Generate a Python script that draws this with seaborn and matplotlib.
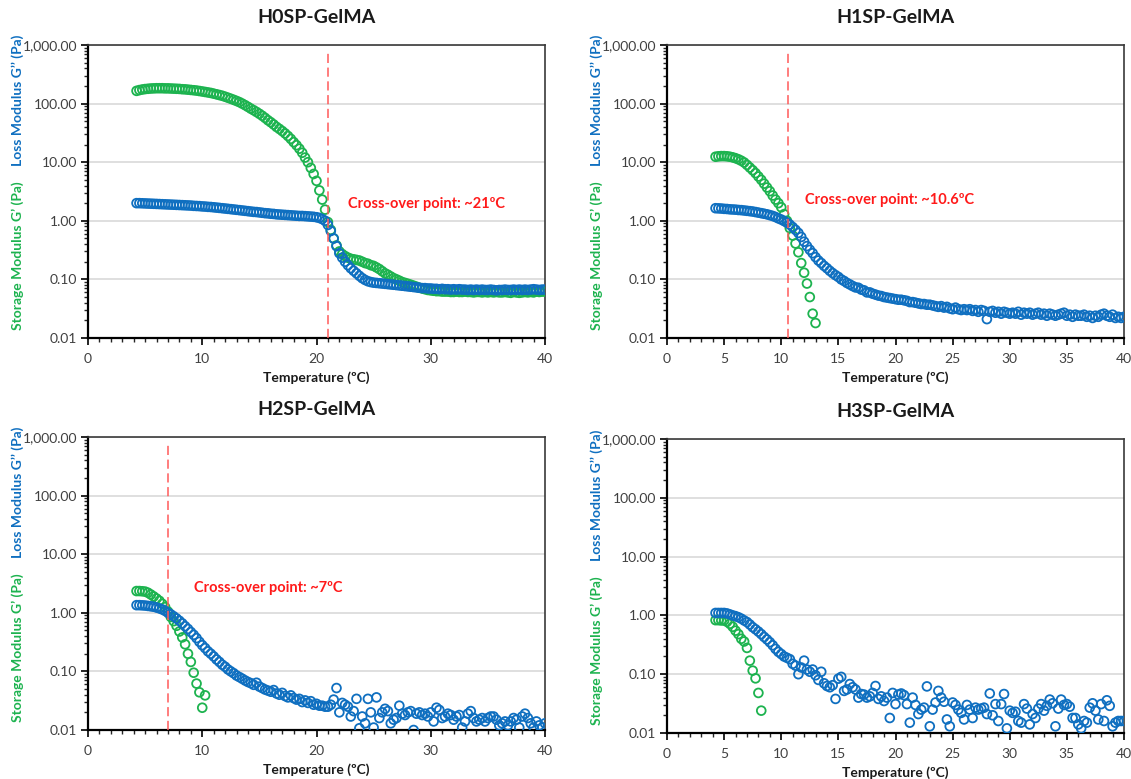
import numpy as np
import pandas as pd
import matplotlib
matplotlib.use("Agg")
import matplotlib.pyplot as plt
import matplotlib.ticker as mticker
import seaborn as sns

sns.set_style("ticks")
plt.rcParams['font.family'] = ['Lato', 'DejaVu Sans']

# temperature sweep (degC), shared by all four samples
temperature = [
    4.25, 4.5, 4.75, 5.0, 5.25, 5.5, 5.75, 6.0,
    6.25, 6.5, 6.75, 7.0, 7.25, 7.5, 7.75, 8.0,
    8.25, 8.5, 8.75, 9.0, 9.25, 9.5, 9.75, 10.0,
    10.25, 10.5, 10.75, 11.0, 11.25, 11.5, 11.75, 12.0,
    12.25, 12.5, 12.75, 13.0, 13.25, 13.5, 13.75, 14.0,
    14.25, 14.5, 14.75, 15.0, 15.25, 15.5, 15.75, 16.0,
    16.25, 16.5, 16.75, 17.0, 17.25, 17.5, 17.75, 18.0,
    18.25, 18.5, 18.75, 19.0, 19.25, 19.5, 19.75, 20.0,
    20.25, 20.5, 20.75, 21.0, 21.25, 21.5, 21.75, 22.0,
    22.25, 22.5, 22.75, 23.0, 23.25, 23.5, 23.75, 24.0,
    24.25, 24.5, 24.75, 25.0, 25.25, 25.5, 25.75, 26.0,
    26.25, 26.5, 26.75, 27.0, 27.25, 27.5, 27.75, 28.0,
    28.25, 28.5, 28.75, 29.0, 29.25, 29.5, 29.75, 30.0,
    30.25, 30.5, 30.75, 31.0, 31.25, 31.5, 31.75, 32.0,
    32.25, 32.5, 32.75, 33.0, 33.25, 33.5, 33.75, 34.0,
    34.25, 34.5, 34.75, 35.0, 35.25, 35.5, 35.75, 36.0,
    36.25, 36.5, 36.75, 37.0, 37.25, 37.5, 37.75, 38.0,
    38.25, 38.5, 38.75, 39.0, 39.25, 39.5, 39.75, 40.0,
]

# H0SP-GelMA
h0_storage = [
    165, 170, 174, 177, 179, 181, 182, 183,
    183, 183, 182, 182, 181, 180, 179, 178,
    176, 175, 173, 171, 169, 167, 164, 161,
    158, 155, 152, 148, 144, 140, 136, 131,
    126, 121, 116, 111, 106, 100, 94, 88,
    82, 77, 72, 67, 62, 57, 52, 48,
    44, 40, 37, 34, 31, 28, 25, 22,
    19.5, 17, 14.5, 12, 10, 8, 6.3, 4.8,
    3.3, 2.3, 1.55, 0.95, 0.7, 0.5, 0.38, 0.3,
    0.27, 0.25, 0.235, 0.225, 0.22, 0.215, 0.21, 0.2,
    0.19, 0.185, 0.175, 0.17, 0.16, 0.15, 0.138, 0.127,
    0.12, 0.112, 0.105, 0.1, 0.095, 0.09, 0.087, 0.084,
    0.081, 0.078, 0.075, 0.072, 0.07, 0.068, 0.066, 0.065,
    0.064, 0.063, 0.063, 0.062, 0.062, 0.062, 0.061, 0.061,
    0.062, 0.061, 0.061, 0.062, 0.061, 0.061, 0.060, 0.061,
    0.061, 0.060, 0.061, 0.060, 0.061, 0.060, 0.061, 0.060,
    0.060, 0.061, 0.060, 0.059, 0.061, 0.060, 0.059, 0.060,
    0.061, 0.060, 0.061, 0.060, 0.062, 0.061, 0.062, 0.062,
]
h0_loss = [
    2.0, 2.0, 1.99, 1.98, 1.97, 1.96, 1.95, 1.94,
    1.93, 1.92, 1.91, 1.9, 1.89, 1.88, 1.87, 1.86,
    1.85, 1.84, 1.83, 1.82, 1.8, 1.79, 1.78, 1.76,
    1.75, 1.73, 1.72, 1.7, 1.68, 1.66, 1.64, 1.62,
    1.6, 1.58, 1.56, 1.54, 1.52, 1.5, 1.48, 1.46,
    1.44, 1.42, 1.41, 1.39, 1.37, 1.35, 1.34, 1.32,
    1.31, 1.29, 1.28, 1.27, 1.26, 1.25, 1.24, 1.23,
    1.22, 1.21, 1.21, 1.2, 1.19, 1.18, 1.17, 1.15,
    1.12, 1.07, 1.0, 0.85, 0.67, 0.5, 0.37, 0.28,
    0.235, 0.2, 0.175, 0.155, 0.14, 0.127, 0.115, 0.105,
    0.098, 0.093, 0.09, 0.088, 0.087, 0.086, 0.085, 0.084,
    0.083, 0.082, 0.081, 0.08, 0.079, 0.078, 0.077, 0.076,
    0.075, 0.074, 0.073, 0.072, 0.071, 0.071, 0.070, 0.070,
    0.069, 0.069, 0.068, 0.069, 0.068, 0.068, 0.067, 0.068,
    0.067, 0.068, 0.067, 0.067, 0.066, 0.067, 0.066, 0.067,
    0.066, 0.067, 0.066, 0.066, 0.067, 0.066, 0.065, 0.066,
    0.066, 0.067, 0.066, 0.066, 0.067, 0.066, 0.067, 0.066,
    0.067, 0.066, 0.067, 0.068, 0.067, 0.066, 0.067, 0.067,
]

# H1SP-GelMA
h1_storage = [
    12.4, 12.6, 12.7, 12.7, 12.6, 12.4, 12.1, 11.7,
    11.2, 10.6, 9.9, 9.0, 8.1, 7.3, 6.5, 5.7,
    5.0, 4.3, 3.7, 3.2, 2.7, 2.3, 2.0, 1.7,
    1.3, 1.0, 0.75, 0.56, 0.41, 0.29, 0.19, 0.13,
    0.085, 0.05, 0.026, 0.018,
]
h1_loss = [
    1.64, 1.63, 1.62, 1.6, 1.59, 1.57, 1.56, 1.55,
    1.53, 1.52, 1.5, 1.48, 1.46, 1.44, 1.41, 1.38,
    1.35, 1.32, 1.29, 1.25, 1.21, 1.16, 1.1, 1.05,
    0.99, 0.93, 0.86, 0.78, 0.7, 0.62, 0.53, 0.44,
    0.37, 0.32, 0.28, 0.24, 0.21, 0.19, 0.17, 0.155,
    0.14, 0.128, 0.118, 0.11, 0.1, 0.094, 0.087, 0.082,
    0.077, 0.073, 0.072, 0.067, 0.065, 0.06, 0.06, 0.057,
    0.055, 0.053, 0.052, 0.05, 0.049, 0.048, 0.047, 0.046,
    0.045, 0.045, 0.044, 0.043, 0.041, 0.041, 0.04, 0.039,
    0.038, 0.038, 0.037, 0.037, 0.036, 0.035, 0.034, 0.035,
    0.033, 0.034, 0.032, 0.031, 0.033, 0.031, 0.03, 0.031,
    0.03, 0.031, 0.029, 0.03, 0.028, 0.03, 0.029, 0.021,
    0.028, 0.029, 0.027, 0.028, 0.026, 0.028, 0.027, 0.026,
    0.027, 0.026, 0.028, 0.025, 0.027, 0.026, 0.027, 0.025,
    0.026, 0.027, 0.025, 0.026, 0.024, 0.026, 0.025, 0.024,
    0.025, 0.026, 0.027, 0.024, 0.025, 0.023, 0.025, 0.024,
    0.024, 0.025, 0.023, 0.024, 0.022, 0.024, 0.023, 0.025,
    0.026, 0.024, 0.023, 0.025, 0.022, 0.023, 0.022, 0.023,
]

# H2SP-GelMA
h2_storage = [
    2.35, 2.35, 2.33, 2.3, 2.2, 2.05, 1.9, 1.75,
    1.6, 1.42, 1.25, 1.05, 0.85, 0.72, 0.6, 0.48,
    0.38, 0.29, 0.2, 0.145, 0.095, 0.062, 0.044, 0.024,
    0.039,
]
h2_loss = [
    1.35, 1.35, 1.34, 1.33, 1.31, 1.29, 1.27, 1.23,
    1.19, 1.14, 1.08, 1.0, 0.94, 0.87, 0.8, 0.73,
    0.66, 0.59, 0.53, 0.47, 0.42, 0.37, 0.32, 0.28,
    0.25, 0.22, 0.2, 0.18, 0.16, 0.145, 0.13, 0.12,
    0.108, 0.1, 0.093, 0.085, 0.08, 0.075, 0.07, 0.066,
    0.063, 0.059, 0.064, 0.055, 0.052, 0.049, 0.047, 0.045,
    0.048, 0.042, 0.04, 0.043, 0.038, 0.036, 0.039, 0.035,
    0.033, 0.034, 0.03, 0.032, 0.029, 0.031, 0.027, 0.028,
    0.026, 0.026, 0.025, 0.025, 0.027, 0.033, 0.052, 0.020,
    0.029, 0.027, 0.025, 0.017, 0.021, 0.034, 0.0107, 0.017,
    0.013, 0.034, 0.020, 0.011, 0.036, 0.016, 0.020, 0.023,
    0.021, 0.013, 0.015, 0.016, 0.026, 0.019, 0.018, 0.020,
    0.021, 0.010, 0.019, 0.020, 0.018, 0.019, 0.017, 0.020,
    0.014, 0.024, 0.022, 0.016, 0.017, 0.019, 0.018, 0.015,
    0.017, 0.018, 0.011, 0.014, 0.019, 0.021, 0.016, 0.014,
    0.015, 0.016, 0.014, 0.016, 0.017, 0.017, 0.015, 0.012,
    0.013, 0.014, 0.012, 0.014, 0.016, 0.015, 0.011, 0.017,
    0.019, 0.016, 0.013, 0.011, 0.014, 0.012, 0.011, 0.013,
]

# H3SP-GelMA
h3_storage = [
    0.83, 0.83, 0.82, 0.82, 0.78, 0.72, 0.64, 0.55,
    0.48, 0.40, 0.36, 0.28, 0.17, 0.115, 0.085, 0.048,
    0.024,
]
h3_loss = [
    1.1, 1.1, 1.1, 1.1, 1.08, 1.04, 1.0, 0.97,
    0.93, 0.88, 0.82, 0.77, 0.7, 0.63, 0.58, 0.53,
    0.48, 0.43, 0.39, 0.35, 0.31, 0.27, 0.24, 0.22,
    0.2, 0.19, 0.18, 0.15, 0.14, 0.1, 0.13, 0.17,
    0.12, 0.11, 0.12, 0.096, 0.08, 0.11, 0.07, 0.063,
    0.06, 0.065, 0.038, 0.084, 0.09, 0.052, 0.055, 0.068,
    0.06, 0.055, 0.04, 0.046, 0.045, 0.04, 0.042, 0.048,
    0.063, 0.038, 0.042, 0.035, 0.04, 0.018, 0.048, 0.031,
    0.045, 0.047, 0.044, 0.031, 0.015, 0.04, 0.03, 0.021,
    0.025, 0.027, 0.062, 0.013, 0.025, 0.033, 0.052, 0.04,
    0.034, 0.017, 0.013, 0.033, 0.03, 0.025, 0.022, 0.017,
    0.03, 0.025, 0.018, 0.027, 0.025, 0.026, 0.027, 0.021,
    0.047, 0.02, 0.031, 0.016, 0.031, 0.046, 0.012, 0.024,
    0.022, 0.023, 0.016, 0.015, 0.031, 0.026, 0.014, 0.021,
    0.018, 0.026, 0.031, 0.024, 0.029, 0.037, 0.032, 0.013,
    0.026, 0.037, 0.03, 0.031, 0.028, 0.018, 0.018, 0.014,
    0.012, 0.016, 0.015, 0.027, 0.032, 0.024, 0.017, 0.031,
    0.016, 0.036, 0.029, 0.013, 0.015, 0.016, 0.016, 0.016,
]

titles = ["H0SP-GelMA", "H1SP-GelMA", "H2SP-GelMA", "H3SP-GelMA"]
storage = [h0_storage, h1_storage, h2_storage, h3_storage]
loss = [h0_loss, h1_loss, h2_loss, h3_loss]
crossover_temp = [21, 10.6, 7, None]
crossover_text = ["Cross-over point: ~21ºC", "Cross-over point: ~10.6ºC",
                  "Cross-over point: ~7ºC", None]
text_pos = [(22.8, 1.9), (12.05, 2.25), (9.3, 2.6), None]
x_step = [10, 5, 10, 5]

green = "#1db34f"
blue = "#0f6fc0"
red = "#ff1a1a"

# axes positions in figure fractions [left, bottom, width, height]
W, H = 1131, 779
boxes = [
    [88 / W, (H - 338) / H, 457 / W, 293 / H],
    [667 / W, (H - 338) / H, 457 / W, 293 / H],
    [88 / W, (H - 730) / H, 457 / W, 293 / H],
    [667 / W, (H - 733) / H, 457 / W, 294 / H],
]

fig = plt.figure(figsize=(W / 100, H / 100), dpi=100)

for i in range(4):
    ax = fig.add_axes(boxes[i])
    n = len(storage[i])
    sns.scatterplot(x=temperature[:n], y=storage[i], ax=ax, marker='o', s=40,
                    color=green, facecolor='none', edgecolor=green, linewidth=1.3, zorder=3)
    sns.scatterplot(x=temperature, y=loss[i], ax=ax, marker='o', s=40,
                    color=blue, facecolor='none', edgecolor=blue, linewidth=1.3, zorder=4)

    ax.set_yscale('log')
    ax.set_ylim(0.01, 1000)
    ax.set_xlim(0, 40)
    ax.set_yticks([0.01, 0.1, 1, 10, 100, 1000])
    ax.yaxis.set_major_formatter(mticker.FuncFormatter(lambda v, p: f"{v:,.2f}"))
    ax.yaxis.set_minor_locator(mticker.LogLocator(base=10, subs=np.arange(2, 10), numticks=20))
    ax.yaxis.set_minor_formatter(mticker.NullFormatter())
    ax.set_xticks(np.arange(0, 41, x_step[i]))
    ax.xaxis.set_minor_locator(mticker.MultipleLocator(1))
    ax.grid(axis='y', which='major', color='#d9d9d9', linewidth=1.2, zorder=0)
    ax.set_axisbelow(True)

    ax.tick_params(axis='both', which='major', direction='out', length=5, width=1.2,
                   labelsize=10, colors='#000000', labelcolor='#404040', pad=3)
    ax.tick_params(axis='both', which='minor', direction='out', length=3, width=1)
    ax.tick_params(axis='x', which='major', pad=6)
    for side in ['left', 'bottom']:
        ax.spines[side].set_linewidth(1.6)
        ax.spines[side].set_color('#000000')
    for side in ['top', 'right']:
        ax.spines[side].set_linewidth(1.2)
        ax.spines[side].set_color('#3a3a3a')

    if crossover_temp[i] is not None:
        ax.axvline(crossover_temp[i], ymin=0, ymax=0.98, color='#ff5a5a',
                   linewidth=1.1, linestyle=(0, (6, 3)), zorder=5)
        ax.text(text_pos[i][0], text_pos[i][1], crossover_text[i], color=red,
                fontsize=10.5, fontweight='bold', ha='left', va='center')

    ax.text(0.5, 1.093, titles[i], transform=ax.transAxes, ha='center', va='center',
            fontsize=14, fontweight='bold', color='#1a1a1a')
    ax.set_xlabel("Temperature (ºC)", fontsize=10, fontweight='bold', color='#1a1a1a',
                  labelpad=4)
    ax.set_ylabel("")
    ax.text(-0.153, 0.28, "Storage Modulus G’ (Pa)", transform=ax.transAxes,
            rotation=90, ha='center', va='center', fontsize=10, fontweight='bold', color=green)
    ax.text(-0.153, 0.81, "Loss Modulus G’’ (Pa)", transform=ax.transAxes,
            rotation=90, ha='center', va='center', fontsize=10, fontweight='bold', color=blue)
    if ax.get_legend() is not None:
        ax.get_legend().remove()

fig.savefig("out.png", dpi=100, facecolor='white')
